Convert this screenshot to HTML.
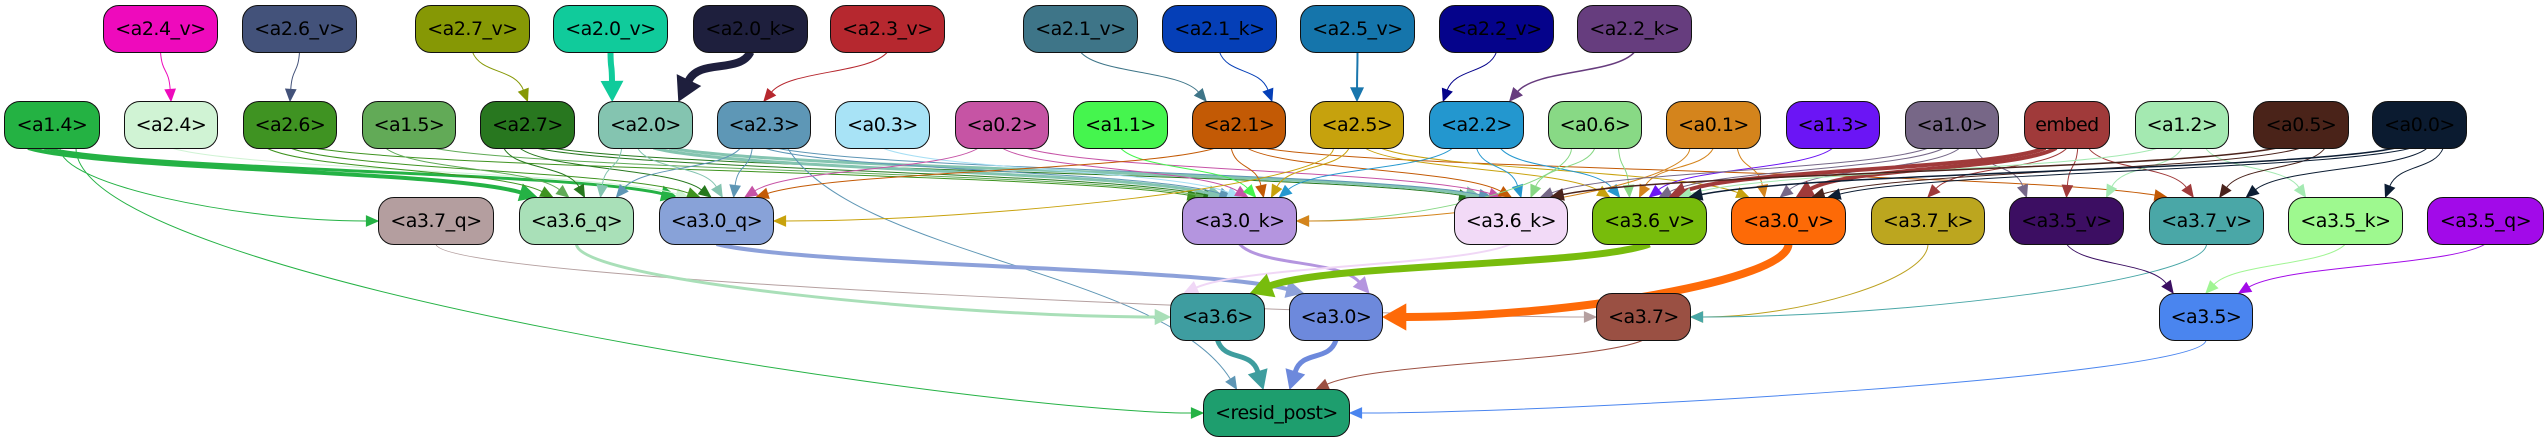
<!DOCTYPE html>
<html><head><meta charset="utf-8"><style>
html,body{margin:0;padding:0;background:#fff;}
body{width:2547px;height:443px;position:relative;overflow:hidden;font-family:"DejaVu Sans","Liberation Sans",sans-serif;}
svg{position:absolute;left:0;top:0;}
.n{position:absolute;box-sizing:border-box;border:1.5px solid #111;border-radius:16px;display:flex;align-items:center;justify-content:center;font-size:19px;color:#000;white-space:nowrap;height:48px;letter-spacing:-0.5px;}
</style></head><body>
<svg id="s" width="2547" height="443" viewBox="0 0 2547 443"></svg>
<div id="nodes"></div>
<script>
const R=[5,101,197,293,389];
const N={
'a2.4_v':[103,218,0,'#ee0abc'],'a2.6_v':[242,357,0,'#43527a'],'a2.7_v':[415,530,0,'#869805'],'a2.0_v':[553,668,0,'#10cb9b'],'a2.0_k':[693,808,0,'#1e1f3d'],'a2.3_v':[830,945,0,'#b6282f'],'a2.1_v':[1023,1138,0,'#3e7588'],'a2.1_k':[1162,1277,0,'#053fb7'],'a2.5_v':[1300,1415,0,'#1575ab'],'a2.2_v':[1439,1554,0,'#05038b'],'a2.2_k':[1577,1692,0,'#663d7e'],
'a1.4':[4,100,1,'#24b243'],'a2.4':[124,218,1,'#d0f3d4'],'a2.6':[243,337,1,'#3f9322'],'a1.5':[362,456,1,'#62aa57'],'a2.7':[480,575,1,'#28771f'],'a2.0':[598,693,1,'#84c4b0'],'a2.3':[717,811,1,'#5e97b6'],'a0.3':[835,930,1,'#a8e3f6'],'a0.2':[955,1049,1,'#c654a4'],'a1.1':[1073,1168,1,'#45f54e'],'a2.1':[1192,1286,1,'#c35a05'],'a2.5':[1310,1404,1,'#c6a20d'],'a2.2':[1429,1524,1,'#2397cf'],'a0.6':[1548,1642,1,'#88d985'],'a0.1':[1666,1761,1,'#d4841c'],'a1.3':[1786,1880,1,'#6b15f5'],'a1.0':[1905,1999,1,'#776787'],'embed':[2024,2110,1,'#a03a3a'],'a1.2':[2135,2229,1,'#a4e9b1'],'a0.5':[2253,2349,1,'#4a2319'],'a0.0':[2372,2467,1,'#0b1b30'],
'a3.7_q':[378,494,2,'#b49e9f'],'a3.6_q':[519,634,2,'#a9e0b8'],'a3.0_q':[659,774,2,'#88a2d8'],'a3.0_k':[1182,1297,2,'#b495df'],'a3.6_k':[1454,1568,2,'#f2daf7'],'a3.6_v':[1592,1707,2,'#78bc0b'],'a3.0_v':[1731,1846,2,'#fd6a07'],'a3.7_k':[1871,1985,2,'#bca61f'],'a3.5_v':[2009,2124,2,'#3c0e62'],'a3.7_v':[2149,2264,2,'#4aa7a7'],'a3.5_k':[2288,2403,2,'#9ef98f'],'a3.5_q':[2427,2544,2,'#a20ae9'],
'a3.6':[1170,1265,3,'#3e9da0'],'a3.0':[1289,1383,3,'#6d89dc'],'a3.7':[1596,1691,3,'#9a5043'],'a3.5':[2159,2253,3,'#4a85ef'],
'resid_post':[1203,1350,4,'#1e9e6e']};
const E=[
['a2.4_v','a2.4','#ee0abc',1],['a2.6_v','a2.6','#43527a',1],['a2.7_v','a2.7','#869805',1],['a2.0_v','a2.0','#10cb9b',6],['a2.0_k','a2.0','#1e1f3d',8],['a2.3_v','a2.3','#b6282f',1],['a2.1_v','a2.1','#3e7588',1],['a2.1_k','a2.1','#053fb7',1],['a2.5_v','a2.5','#1976ad',2],['a2.2_v','a2.2','#05038b',1],['a2.2_k','a2.2','#673c7e',1.5],
['a1.4','a3.6_q','#25b245',4],['a1.4','a3.0_q','#25b245',3],['a1.4','a3.7_q','#25b245',1,'L'],['a1.4','resid_post','#25b245',1,'L'],
['a2.4','a3.0_q','#d0f3d4',1],['a2.6','a3.6_q','#3f9320',1],['a2.6','a3.0_q','#3f9320',1],['a2.6','a3.0_k','#3f9320',1],
['a1.5','a3.6_q','#60aa57',1],['a1.5','a3.0_k','#60aa57',1],
['a2.7','a3.6_q','#27781e',1],['a2.7','a3.0_q','#27781e',1],['a2.7','a3.0_k','#27781e',1],['a2.7','a3.6_k','#27781e',1],
['a2.0','a3.6_q','#84c4b0',1],['a2.0','a3.0_q','#84c4b0',1],['a2.0','a3.0_k','#84c4b0',3],['a2.0','a3.6_k','#84c4b0',3],
['a2.3','a3.6_q','#5e96b5',1],['a2.3','a3.0_q','#5e96b5',1],['a2.3','a3.0_k','#5e96b5',1],['a2.3','a3.6_k','#5e96b5',1],['a2.3','resid_post','#5e96b5',1],
['a0.3','a3.0_k','#a7dff4',1],['a0.2','a3.0_q','#c653a6',1],['a0.2','a3.0_k','#c653a6',1],['a0.2','a3.6_k','#c653a6',1],['a1.1','a3.0_k','#44f54d',1],
['a2.1','a3.0_q','#c35a05',1],['a2.1','a3.0_k','#c35a05',1],['a2.1','a3.6_k','#c35a05',1],['a2.1','a3.7_v','#c35a05',1],
['a2.5','a3.0_q','#c8a20d',1,'R'],['a2.5','a3.0_k','#c8a20d',1],['a2.5','a3.6_v','#c8a20d',1],['a2.5','a3.0_v','#c8a20d',1],
['a2.2','a3.0_k','#2598cf',1],['a2.2','a3.6_k','#2598cf',1],['a2.2','a3.6_v','#2598cf',1],
['a0.6','a3.0_k','#88d885',1,'R'],['a0.6','a3.6_k','#88d885',1],['a0.6','a3.6_v','#88d885',1],
['a0.1','a3.0_k','#d4841c',1,'R'],['a0.1','a3.6_v','#d4841c',1],['a0.1','a3.0_v','#d4841c',1],
['a1.3','a3.6_v','#6c15f4',1],
['a1.0','a3.6_k','#766888',1],['a1.0','a3.6_v','#766888',1],['a1.0','a3.0_v','#766888',1],['a1.0','a3.5_v','#766888',1],
['embed','a3.6_v','#a03a3a',4],['embed','a3.0_v','#a03a3a',4],['embed','a3.7_k','#a03a3a',1],['embed','a3.5_v','#a03a3a',1],['embed','a3.7_v','#a03a3a',1],
['a1.2','a3.6_v','#a4e9b2',1],['a1.2','a3.5_v','#a4e9b2',1],['a1.2','a3.5_k','#a4e9b2',1],
['a0.5','a3.6_k','#4a231c',1.5],['a0.5','a3.0_v','#4a231c',1],['a0.5','a3.7_v','#4a231c',1],
['a0.0','a3.6_v','#0c1d33',1.5],['a0.0','a3.0_v','#0c1d33',1],['a0.0','a3.7_v','#0c1d33',1],['a0.0','a3.5_k','#0c1d33',1],
['a3.7_q','a3.7','#b5a0a0',1,'L'],['a3.6_q','a3.6','#a9dfb8',3,'L'],['a3.0_q','a3.0','#8da1da',4],['a3.0_k','a3.0','#b495df',3],['a3.6_k','a3.6','#f0d7f6',2],['a3.6_v','a3.6','#78bc0d',7],['a3.0_v','a3.0','#fe6a08',8,'R'],['a3.7_k','a3.7','#bca11f',1,'R'],['a3.7_v','a3.7','#48a6a6',1,'R'],['a3.5_v','a3.5','#3b0f62',1],['a3.5_k','a3.5','#a0f593',1],['a3.5_q','a3.5','#a20ae8',1],
['a3.6','resid_post','#3e9d9e',5],['a3.0','resid_post','#6d89dc',5],['a3.7','resid_post','#9c5042',1],['a3.5','resid_post','#4a85ef',1,'R']];
const s=document.getElementById('s');
const cnt={};E.forEach(e=>{if(!e[4])cnt[e[1]]=(cnt[e[1]]||0)+1;});const idx={};
const scnt={};E.forEach(e=>{scnt[e[0]]=(scnt[e[0]]||0)+1;});const sidx={};
let html='';
E.forEach(e=>{
 const a=N[e[0]],b=N[e[1]];
 const j=sidx[e[0]]=(sidx[e[0]]||0)+1;const sc=scnt[e[0]];
 const sspan=(a[1]-a[0])*0.5;
 const sx=(a[0]+a[1])/2+(sc>1?(j-1)/(sc-1)-0.5:0)*sspan, sy=R[a[2]]+47;
 let tx,ty,c1x,c1y,c2x,c2y;
 const w=e[3];const L=10+w*1.6, hw=4+w*1.1;
 if(e[4]){
  ty=R[b[2]]+24; tx=e[4]=='L'?b[0]:b[1];
  const d=Math.min(200,Math.abs(tx-sx)*0.4)*(e[4]=='L'?-1:1);
  c1x=sx;c1y=sy+(ty-sy)*0.5;c2x=tx+d;c2y=ty;
 }else{
  const i=idx[e[1]]=(idx[e[1]]||0)+1;const c=cnt[e[1]];
  const span=Math.min(80,(b[1]-b[0])*0.7);
  tx=(b[0]+b[1])/2+(c>1?(i-1)/(c-1)-0.5:0)*span; ty=R[b[2]];
  const dy=ty-sy;
  c1x=sx+(tx-sx)*0.15;c1y=sy+dy*0.45;c2x=tx-(tx-sx)*0.15;c2y=ty-dy*0.45;
 }
 let ux=tx-c2x,uy=ty-c2y;let m=Math.hypot(ux,uy)||1;ux/=m;uy/=m;
 const ex=tx-ux*L,ey=ty-uy*L;
 html+=`<path d="M${sx},${sy} C${c1x},${c1y} ${c2x-ux*L},${c2y-uy*L} ${ex},${ey}" fill="none" stroke="${e[2]}" stroke-width="${w}"/>`;
 html+=`<polygon points="${tx},${ty} ${ex-uy*hw},${ey+ux*hw} ${ex+uy*hw},${ey-ux*hw}" fill="${e[2]}" stroke="${e[2]}" stroke-width="1"/>`;
});
s.innerHTML=html;
let nh='';
for(const k in N){const a=N[k];nh+=`<div class="n" style="left:${a[0]}px;top:${R[a[2]]}px;width:${a[1]-a[0]}px;background:${a[3]}">${k=='embed'?'embed':'&lt;'+k+'&gt;'}</div>`;}
document.getElementById('nodes').innerHTML=nh;
</script>
</body></html>
